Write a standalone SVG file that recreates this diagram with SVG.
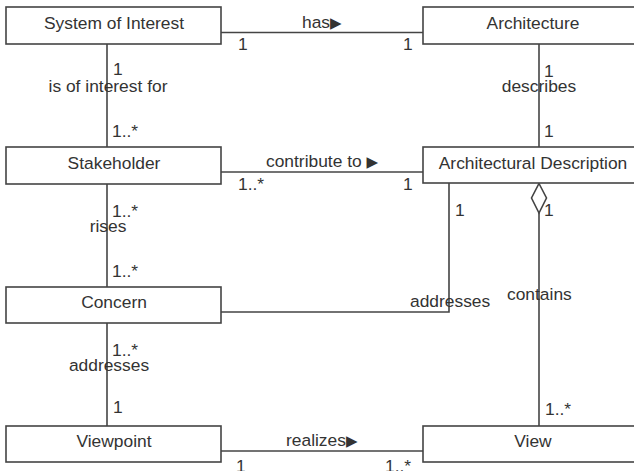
<svg xmlns="http://www.w3.org/2000/svg" width="634" height="471" viewBox="0 0 634 471">
<style>
.box{fill:#fff;stroke:#444;stroke-width:1.6}
.ln{fill:none;stroke:#444;stroke-width:1.6}
text{font-family:"Liberation Sans",Arial,"DejaVu Sans",sans-serif;font-size:17.4px;fill:#333}
.c{text-anchor:middle}
.tri{font-family:"DejaVu Sans",sans-serif;font-size:15px}
</style>
<rect width="634" height="471" fill="#fff"/>
<g id="connectors">
<line class="ln" x1="221" y1="32.5" x2="423" y2="32.5"/>
<line class="ln" x1="107" y1="44" x2="107" y2="147"/>
<line class="ln" x1="539" y1="44" x2="539" y2="147"/>
<line class="ln" x1="221" y1="172" x2="423" y2="172"/>
<line class="ln" x1="107" y1="184" x2="107" y2="287"/>
<polygon class="ln" points="539,183.5 546.5,198 539,213 531.5,198" style="fill:#fff"/>
<line class="ln" x1="539" y1="213" x2="539" y2="426"/>
<polyline class="ln" points="449,183 449,312 221,312"/>
<line class="ln" x1="107" y1="323" x2="107" y2="426"/>
<line class="ln" x1="221" y1="451" x2="423" y2="451"/>
<text x="302" y="28">has<tspan class="tri">▶</tspan></text>
<text x="238" y="50">1</text>
<text x="403" y="50">1</text>
<text x="266" y="167">contribute to <tspan class="tri">▶</tspan></text>
<text x="238" y="190">1..*</text>
<text x="403" y="190">1</text>
<text x="286" y="446">realizes<tspan class="tri">▶</tspan></text>
<text x="236" y="472">1</text>
<text x="385" y="472">1..*</text>
<text x="113" y="75">1</text>
<text class="c" x="108" y="92">is of interest for</text>
<text x="112" y="137">1..*</text>
<text x="112" y="217">1..*</text>
<text class="c" x="108" y="232">rises</text>
<text x="112" y="277">1..*</text>
<text x="112" y="356">1..*</text>
<text class="c" x="109" y="371">addresses</text>
<text x="113" y="413">1</text>
<text x="544" y="77">1</text>
<text class="c" x="539" y="92">describes</text>
<text x="544" y="137">1</text>
<text x="455" y="216">1</text>
<text x="544" y="216">1</text>
<text x="410" y="307">addresses</text>
<text x="507" y="300">contains</text>
<text x="545" y="415">1..*</text>
</g>
<g id="system-of-interest"><rect class="box" x="6" y="7" width="215" height="37"/><text class="c" x="114" y="29">System of Interest</text></g>
<g id="architecture"><rect class="box" x="423" y="7" width="220" height="37"/><text class="c" x="533" y="29">Architecture</text></g>
<g id="stakeholder"><rect class="box" x="6" y="147" width="215" height="37"/><text class="c" x="114" y="168.5">Stakeholder</text></g>
<g id="architectural-description"><rect class="box" x="423" y="147" width="220" height="36"/><text class="c" x="533" y="168.5">Architectural Description</text></g>
<g id="concern"><rect class="box" x="6" y="287" width="215" height="36"/><text class="c" x="114" y="308">Concern</text></g>
<g id="viewpoint"><rect class="box" x="6" y="426" width="215" height="36"/><text class="c" x="114" y="447">Viewpoint</text></g>
<g id="view"><rect class="box" x="423" y="426" width="220" height="36"/><text class="c" x="533" y="447">View</text></g>
</svg>
